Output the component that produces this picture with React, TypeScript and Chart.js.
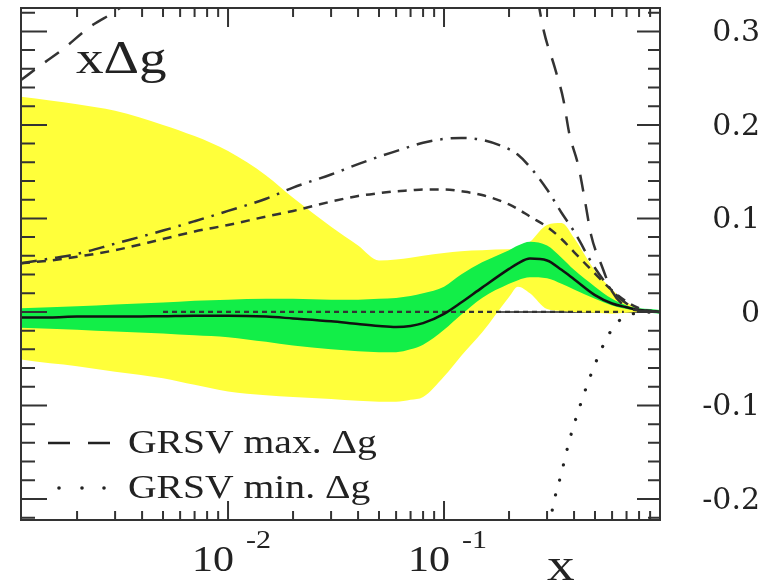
import React, { useEffect, useRef } from 'react';
import { Chart, registerables } from 'chart.js';

Chart.register(...registerables);

// ---- data ----
const xGrid = [0.0011, 0.0015, 0.002, 0.003, 0.005, 0.007, 0.01, 0.015, 0.02, 0.03, 0.04, 0.05, 0.06, 0.07, 0.08, 0.1, 0.12, 0.15, 0.2, 0.22, 0.25, 0.3, 0.35, 0.4, 0.5, 0.6, 0.7, 0.8, 0.9, 1.0];

const yellowHi = [0.230, 0.226, 0.222, 0.215, 0.200, 0.188, 0.172, 0.146, 0.122, 0.091, 0.071, 0.055, 0.056, 0.058, 0.060, 0.063, 0.065, 0.066, 0.067, 0.067, 0.075, 0.093, 0.095, 0.079, 0.044, 0.024, 0.010, 0.004, 0.001, 0];
const yellowLo = [-0.051, -0.055, -0.058, -0.064, -0.071, -0.078, -0.085, -0.089, -0.091, -0.093, -0.095, -0.096, -0.096, -0.094, -0.091, -0.069, -0.047, -0.022, 0.016, 0.027, 0.020, 0.003, 0.001, 0.0, -0.001, -0.002, -0.001, 0, 0, 0];

const greenHi = [0.004, 0.005, 0.006, 0.008, 0.010, 0.012, 0.013, 0.014, 0.014, 0.013, 0.013, 0.014, 0.015, 0.017, 0.020, 0.027, 0.040, 0.053, 0.066, 0.071, 0.075, 0.071, 0.058, 0.045, 0.027, 0.014, 0.007, 0.004, 0.003, 0.002];
const greenLo = [-0.017, -0.018, -0.019, -0.021, -0.023, -0.025, -0.027, -0.032, -0.036, -0.040, -0.042, -0.043, -0.043, -0.040, -0.035, -0.019, -0.003, 0.015, 0.030, 0.034, 0.037, 0.036, 0.030, 0.024, 0.014, 0.007, 0.003, 0.001, -0.001, -0.002];

const central = [-0.006, -0.006, -0.005, -0.005, -0.0045, -0.004, -0.004, -0.005, -0.007, -0.010, -0.013, -0.015, -0.016, -0.015, -0.012, -0.002, 0.010, 0.026, 0.046, 0.052, 0.057, 0.055, 0.045, 0.035, 0.018, 0.009, 0.005, 0.002, 0.001, 0];

const dashDot = [0.052, 0.057, 0.062, 0.073, 0.087, 0.097, 0.108, 0.121, 0.133, 0.147, 0.158, 0.166, 0.172, 0.177, 0.181, 0.185, 0.186, 0.184, 0.174, 0.168, 0.155, 0.131, 0.106, 0.086, 0.047, 0.023, 0.009, 0.003, 0.001, 0];

const shortDash = [0.052, 0.055, 0.059, 0.066, 0.078, 0.086, 0.093, 0.102, 0.108, 0.118, 0.124, 0.127, 0.129, 0.130, 0.131, 0.131, 0.129, 0.125, 0.115, 0.110, 0.102, 0.091, 0.078, 0.064, 0.041, 0.023, 0.011, 0.004, 0.001, 0];

// GRSV max. Δg (long dashes) – leaves the frame at the top
const maxX = [0.0011, 0.0014, 0.0017, 0.0023, 0.0032, 0.005, 0.01, 0.03, 0.1, 0.2, 0.25, 0.29, 0.325, 0.357, 0.38, 0.42, 0.45, 0.48, 0.54, 0.6, 0.69, 0.77, 1.0];
const maxY = [0.248, 0.266, 0.280, 0.305, 0.326, 0.37, 0.43, 0.50, 0.55, 0.47, 0.38, 0.30, 0.262, 0.227, 0.191, 0.155, 0.118, 0.082, 0.048, 0.022, 0.006, 0.002, 0];

// GRSV min. Δg (dots) – leaves the frame at the bottom
const minX = [0.3, 0.32, 0.35, 0.38, 0.42, 0.47, 0.54, 0.59, 0.65, 0.75, 1.0];
const minY = [-0.245, -0.207, -0.172, -0.138, -0.105, -0.072, -0.038, -0.021, -0.009, -0.002, 0];

// dotted line along zero
const zeroDotX = [0.005, 0.68];
const zeroDotY = [0, 0];

// solid zero line
const zeroX = [0.0011, 1.0];
const zeroY = [0, 0];

const xTickValues = [0.002, 0.003, 0.004, 0.005, 0.006, 0.007, 0.008, 0.009, 0.01, 0.02, 0.03, 0.04, 0.05, 0.06, 0.07, 0.08, 0.09, 0.1, 0.2, 0.3, 0.4, 0.5, 0.6, 0.7, 0.8, 0.9];
const xTickLabels = [
  { value: 0.01, base: '10', exp: '-2' },
  { value: 0.1, base: '10', exp: '-1' },
];
const yTickValues = [-0.22, -0.2, -0.18, -0.16, -0.14, -0.12, -0.1, -0.08, -0.06, -0.04, -0.02, 0, 0.02, 0.04, 0.06, 0.08, 0.1, 0.12, 0.14, 0.16, 0.18, 0.2, 0.22, 0.24, 0.26, 0.28, 0.3, 0.32];

const legendItems = [
  { text: 'GRSV max. Δg', style: 'dash' },
  { text: 'GRSV min. Δg', style: 'dot' },
];

const SERIF = '"Liberation Serif", "Times New Roman", serif';
const INK = '#222';
const YELLOW = '#ffff3a';
const GREEN = '#12ee48';

const pts = (xs: number[], ys: number[]) => xs.map((x, i) => ({ x, y: ys[i] }));

function isDecade(v: number) {
  const l = Math.log10(v);
  return Math.abs(l - Math.round(l)) < 1e-6;
}
function isTenth(v: number) {
  return Math.abs(v * 10 - Math.round(v * 10)) < 1e-6;
}

function stretchText(ctx: CanvasRenderingContext2D, text: string, x: number, y: number, size: number, sx: number) {
  ctx.save();
  ctx.font = `${size}px ${SERIF}`;
  ctx.textBaseline = 'alphabetic';
  ctx.textAlign = 'left';
  ctx.translate(x, y);
  ctx.scale(sx, 1);
  ctx.fillText(text, 0, 0);
  ctx.restore();
}

const framePlugin = {
  id: 'frameAndText',
  afterDraw(chart: any) {
    const { ctx, chartArea: a, scales } = chart;
    const xs = scales.x;
    const ys = scales.y;
    ctx.save();
    ctx.strokeStyle = '#333';
    ctx.lineWidth = 2;
    ctx.setLineDash([]);
    ctx.strokeRect(a.left, a.top, a.right - a.left, a.bottom - a.top);
    ctx.beginPath();
    xs.ticks.forEach((t: any) => {
      const px = xs.getPixelForValue(t.value);
      if (px <= a.left + 1 || px >= a.right - 1) return;
      const len = isDecade(t.value) ? 19 : 9;
      ctx.moveTo(px, a.top);
      ctx.lineTo(px, a.top + len);
      ctx.moveTo(px, a.bottom);
      ctx.lineTo(px, a.bottom - len);
    });
    ys.ticks.forEach((t: any) => {
      const py = ys.getPixelForValue(t.value);
      if (py <= a.top + 1 || py >= a.bottom - 1) return;
      const major = isTenth(t.value);
      ctx.moveTo(a.left, py);
      ctx.lineTo(a.left + (major ? 26 : 14), py);
      ctx.moveTo(a.right, py);
      ctx.lineTo(a.right - (major ? 23 : 12), py);
    });
    ctx.stroke();

    ctx.fillStyle = INK;
    // x tick labels 10^-n
    xTickLabels.forEach((l) => {
      const px = xs.getPixelForValue(l.value);
      stretchText(ctx, l.base, px - 36, 571, 35, 1.2);
      stretchText(ctx, l.exp, px + 18, 548, 25, 1.2);
    });
    // axis title
    stretchText(ctx, 'x', a.right - 113, 580, 46, 1.2);
    // panel label
    stretchText(ctx, 'xΔg', a.left + 55, a.top + 65, 46, 1.2);

    // legend
    const lx = a.left + 27;
    legendItems.forEach((item, i) => {
      const y = 443 + i * 45;
      ctx.strokeStyle = INK;
      ctx.fillStyle = INK;
      if (item.style === 'dash') {
        ctx.lineWidth = 2.5;
        ctx.beginPath();
        ctx.moveTo(lx, y); ctx.lineTo(lx + 22, y);
        ctx.moveTo(lx + 40, y); ctx.lineTo(lx + 62, y);
        ctx.stroke();
      } else {
        [11, 34, 56].forEach((dx) => {
          ctx.beginPath();
          ctx.arc(lx + dx, y, 1.8, 0, Math.PI * 2);
          ctx.fill();
        });
      }
      stretchText(ctx, item.text, a.left + 107, y + 10, 33, 1.2);
    });
    ctx.restore();
  },
};

export default function App() {
  const ref = useRef<HTMLCanvasElement>(null);
  useEffect(() => {
    if (!ref.current) return;
    const common = { pointRadius: 0, pointHoverRadius: 0, cubicInterpolationMode: 'monotone' as const, clip: 0 };
    const ds: any[] = [
      { label: 'zero', data: pts(zeroX, zeroY), borderColor: '#222', borderWidth: 1.5, fill: false },
      { label: 'band 2 upper', data: pts(xGrid, yellowHi), borderWidth: 0, borderColor: 'rgba(0,0,0,0)', backgroundColor: YELLOW, fill: '+1' },
      { label: 'band 2 lower', data: pts(xGrid, yellowLo), borderWidth: 0, borderColor: 'rgba(0,0,0,0)', fill: false },
      { label: 'band 1 upper', data: pts(xGrid, greenHi), borderWidth: 0, borderColor: 'rgba(0,0,0,0)', backgroundColor: GREEN, fill: '+1' },
      { label: 'band 1 lower', data: pts(xGrid, greenLo), borderWidth: 0, borderColor: 'rgba(0,0,0,0)', fill: false },
      { label: 'zero dotted', data: pts(zeroDotX, zeroDotY), borderColor: '#333', borderWidth: 2.2, borderDash: [5, 4], fill: false },
      { label: 'central', data: pts(xGrid, central), borderColor: '#111', borderWidth: 2.5, fill: false },
      { label: 'short dash', data: pts(xGrid, shortDash), borderColor: '#333', borderWidth: 2.5, borderDash: [9, 7], fill: false },
      { label: 'dash dot', data: pts(xGrid, dashDot), borderColor: '#333', borderWidth: 2.5, borderDash: [16, 8, 2.5, 8], fill: false },
      { label: 'GRSV max. Δg', data: pts(maxX, maxY), borderColor: '#333', borderWidth: 2.5, borderDash: [17, 13], fill: false },
      { label: 'GRSV min. Δg', data: pts(minX, minY), borderColor: '#222', borderWidth: 3.2, borderDash: [0.1, 15.5], borderCapStyle: 'round', fill: false },
    ];
    const n = ds.length;
    const datasets = ds.map((d, i) => ({ ...common, ...d, order: n - i }));

    const chart = new Chart(ref.current, {
      type: 'line',
      data: { datasets },
      plugins: [framePlugin],
      options: {
        animation: false,
        responsive: false,
        events: [],
        layout: { padding: { left: 21, top: 8, right: 0, bottom: 0 } },
        plugins: { legend: { display: false }, tooltip: { enabled: false } },
        scales: {
          x: {
            type: 'logarithmic',
            position: 'bottom',
            min: 0.0011,
            max: 1.0,
            grid: { display: false, drawTicks: false },
            border: { display: false },
            ticks: { display: false, autoSkip: false },
            afterBuildTicks: (s: any) => { s.ticks = xTickValues.map((v) => ({ value: v })); },
            afterFit: (s: any) => { s.height = 66; s.paddingLeft = 0; s.paddingRight = 0; },
          },
          y: {
            type: 'linear',
            position: 'right',
            min: -0.2225,
            max: 0.325,
            grid: { display: false, drawTicks: false },
            border: { display: false },
            ticks: {
              autoSkip: false,
              crossAlign: 'far',
              padding: 33,
              labelOffset: 2,
              color: INK,
              font: { family: '"DejaVu Serif", serif', size: 30 },
              callback: (v: any) => {
                const num = Number(v);
                if (!isTenth(num)) return '';
                const r = Math.round(num * 10);
                return r === 0 ? '0' : (r / 10).toFixed(1);
              },
            },
            afterBuildTicks: (s: any) => { s.ticks = yTickValues.map((v) => ({ value: v })); },
            afterFit: (s: any) => { s.width = 100; s.paddingTop = 0; s.paddingBottom = 0; },
          },
        },
      } as any,
    });
    return () => chart.destroy();
  }, []);
  return (
    <div style={{ position: 'fixed', left: 0, top: 0, width: 760, height: 586, background: '#fff' }}>
      <canvas ref={ref} width={760} height={586} style={{ display: 'block' }} />
    </div>
  );
}
